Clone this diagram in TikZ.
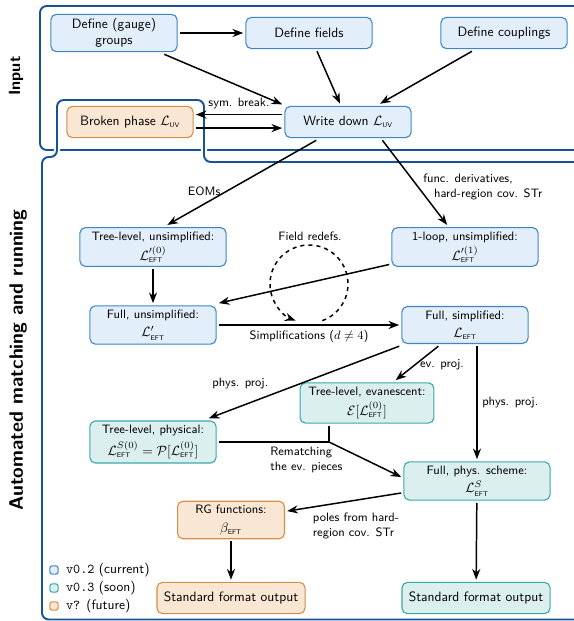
\documentclass[tikz,border=0pt]{standalone}
\usepackage{amsmath}
\usepackage{tikz}
\usetikzlibrary{arrows.meta, positioning}
\tikzset{every picture/.style={/utils/exec={\sffamily}}}

\definecolor{framecol}{RGB}{22,82,152}
\definecolor{curdraw}{RGB}{62,134,204}
\definecolor{curfill}{RGB}{226,238,249}
\definecolor{soondraw}{RGB}{58,168,170}
\definecolor{soonfill}{RGB}{220,239,239}
\definecolor{futdraw}{RGB}{214,142,72}
\definecolor{futfill}{RGB}{249,230,211}

\newcommand{\eft}{\text{\tiny EFT}}
\newcommand{\uv}{\text{\tiny UV}}

\tikzset{
  stage/.style={rectangle, rounded corners=4pt, line width=0.8pt, align=center,
    minimum width=3.28cm, minimum height=0.81cm, inner sep=3pt, outer sep=2pt},
  curbox/.style={stage, draw=curdraw, fill=curfill},
  soonbox/.style={stage, draw=soondraw, fill=soonfill},
  futbox/.style={stage, draw=futdraw, fill=futfill},
  panel/.style={draw=framecol, line width=1.4pt, rounded corners=5pt},
  legbox/.style={rectangle, rounded corners=1.5pt, line width=0.8pt, minimum size=6pt, inner sep=0pt},
  lbl/.style={font=\small}
}

\begin{document}
\begin{tikzpicture}[x=2.6mm, y=2.6mm, >=Stealth, line width=1.1pt]
        \useasboundingbox (0,0) rectangle (57.4,62.1);

        % Frames
        \draw[panel] (59,47.1) -- (4.0,47.1) -- (4.0,61.5) -- (59,61.5);
        \draw[panel, draw=white, line width=4.5pt] (59,45.9) -- (20.4,45.9) -- (20.4,52.1) -- (5.7,52.1)
            -- (5.7,46.4) -- (4.2,46.4) -- (4.2,0.15) -- (59,0.15);
        \draw[panel] (59,45.9) -- (20.4,45.9) -- (20.4,52.1) -- (5.7,52.1)
            -- (5.7,46.4) -- (4.2,46.4) -- (4.2,0.15) -- (59,0.15);
        \node[rotate=90, font=\large\bfseries] (inlbl) at (1.6, 54.5) {Input};
        \node[rotate=90, font=\Large\bfseries] (autolbl) at (1.8, 26.1) {Automated matching and running};

        % Nodes
        \node[curbox] (groups) at (11.4, 58.8) {Define (gauge)\\groups};
        \node[curbox] (fields) at (30.9, 58.8) {Define fields};
        \node[curbox] (couplings) at (50.4, 58.8) {Define couplings};
        \node[curbox] (uv) at (34.8, 49.9) {Write down $\mathcal{L}_{\uv}$};
        \node[futbox] (broken) at (13.0, 49.9) {Broken phase $\mathcal{L}_{\uv}$};
        \node[curbox, minimum width=3.8cm] (tree0) at (15.3, 37.4) {{\small Tree-level, unsimplified:}\\[1.5pt]$\mathcal{L}'^{(0)}_{\eft}$};
        \node[curbox, minimum width=3.8cm] (loop1) at (46.5, 37.4) {{\small 1-loop, unsimplified:}\\[1.5pt]$\mathcal{L}'^{(1)}_{\eft}$};
        \node[curbox] (fullu) at (15.3, 29.6) {{\small Full, unsimplified:}\\[1.5pt]$\mathcal{L}'_{\eft}$};
        \node[curbox] (fulls) at (46.5, 29.6) {{\small Full, simplified:}\\[1.5pt]$\mathcal{L}_{\eft}$};
        \node[soonbox, minimum width=3.48cm] (evan) at (36.7, 21.8) {{\small Tree-level, evanescent:}\\[3pt]$\mathcal{E}[\mathcal{L}^{(0)}_{\eft}]$};
        \node[soonbox] (phys) at (15.3, 17.9) {{\small Tree-level, physical:}\\[3pt]$\mathcal{L}^{S(0)}_{\eft}=\mathcal{P}[\mathcal{L}^{(0)}_{\eft}]$};
        \node[soonbox, minimum width=3.8cm] (scheme) at (47.7, 14.0) {{\small Full, phys. scheme:}\\[1.5pt]$\mathcal{L}^{S}_{\eft}$};
        \node[futbox, minimum width=2.78cm] (rg) at (23.1, 10.1) {{\small RG functions:}\\[1.5pt]$\beta_{\eft}$};
        \node[futbox, minimum width=3.85cm] (out1) at (23.1, 2.3) {Standard format output};
        \node[soonbox, minimum width=3.85cm] (out2) at (47.6, 2.3) {Standard format output};
        \coordinate (merge) at (32.9, 17.9);
        \coordinate (redef) at (30.9, 33.7);

        % Input edges
        \draw[->] (groups) -- (fields);
        \draw[->] (groups) -- (uv.165);
        \draw[->] (fields) -- (uv);
        \draw[->] (couplings) -- (uv);
        \draw[->] ([yshift=5.5pt]uv.west) -- ([yshift=5.5pt]broken.east) node[midway, above, lbl] {sym. break.};
        \draw[->] ([yshift=-4.5pt]broken.east) -- ([yshift=-4.5pt]uv.west);

        % Matching edges
        \draw[->] (uv.210) -- (tree0.57) node[pos=0.6, left=1pt, lbl] {EOMs};
        \draw[->] (uv.-28) -- (loop1.129) node[pos=0.55, right, lbl, align=left] {func. derivatives,\\\hspace{8pt}hard-region cov. STr};
        \draw[->] (tree0) -- (fullu);
        \draw[->, dashed] ([shift={(-70:3.9)}]redef) arc[start angle=-70, end angle=250, radius=3.9];
        \node[lbl] (redeflbl) at (31.0, 38.5) {Field redefs.};
        \draw[->] (loop1.193) -- (fullu.north east);
        \draw[->] (fullu) -- (fulls) node[midway, below, lbl] {Simplifications ($d\neq 4$)};

        % Running edges
        \draw[->] (fulls.south west) -- (phys.23) node[pos=0.66, above left=0pt, lbl] {phys. proj.};
        \draw[->] (fulls) -- (evan) node[pos=0.55, right, lbl] {ev. proj.};
        \draw[->] (scheme.north |- fulls.south) -- (scheme) node[midway, right, lbl] {phys. proj.};
        \draw (phys) -- (merge) node[pos=0.42, below right, lbl, align=left] {Rematching\\the ev. pieces};
        \draw (evan.south -| merge) -- (merge);
        \draw[->] (merge) -- (scheme.177);
        \draw[->] (scheme) -- (rg) node[pos=0.82, below right, lbl, align=left] {poles from hard-\\region cov. STr};
        \draw[->] (rg) -- (out1);
        \draw[->] (scheme) -- (out2);

        % Legend
        \node[legbox, draw=curdraw, fill=curfill] (leg1) at (5.4, 5.1) {};
        \node[legbox, draw=soondraw, fill=soonfill] (leg2) at (5.4, 3.3) {};
        \node[legbox, draw=futdraw, fill=futfill] (leg3) at (5.4, 1.5) {};
        \node[right=4pt of leg1, inner sep=1pt] (leg1txt) {\texttt{v0.2} (current)};
        \node[right=4pt of leg2, inner sep=1pt] (leg2txt) {\texttt{v0.3} (soon)};
        \node[right=4pt of leg3, inner sep=1pt] (leg3txt) {\texttt{v?} (future)};
\end{tikzpicture}
\end{document}
